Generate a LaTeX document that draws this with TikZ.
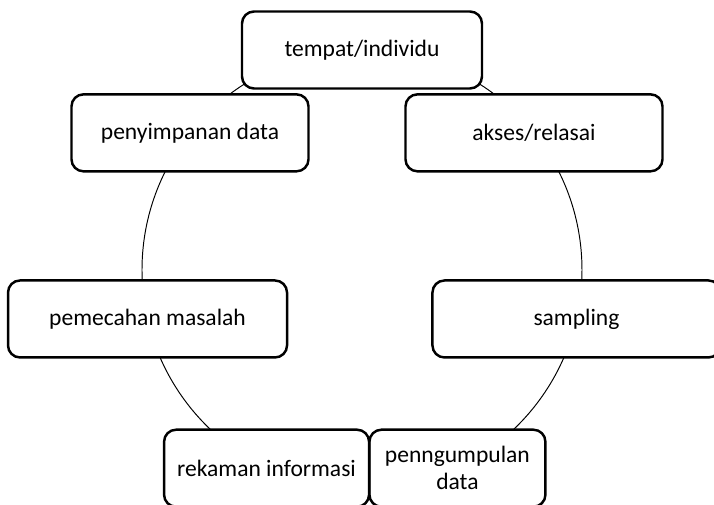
\documentclass[tikz,border=0pt]{standalone}
\usepackage{fontspec}
\setmainfont{Carlito}

\tikzset{
  cyclebox/.style={draw, line width=1.4pt, rounded corners=0.24cm, fill=white,
    minimum height=1.54cm, align=center, inner sep=2pt,
    font=\fontsize{13.4}{15.5}\selectfont}
}

\begin{document}
\begin{tikzpicture}
    \useasboundingbox (-7.24,-4.7) rectangle (7.04,5.4);
    \coordinate (O) at (0:0);
    \draw[line width=0.55pt] (O) circle (4.4);
    \node[cyclebox, minimum width=4.8cm]  (tempat)  at (90:4.4)      {tempat/individu};
    \node[cyclebox, minimum width=5.14cm] (akses)   at (38.57:4.4)   {akses/relasai};
    \node[cyclebox, minimum width=5.76cm] (sampl)   at (-12.86:4.4)  {sampling};
    \node[cyclebox, minimum width=3.52cm] (kumpul)  at (-64.29:4.4)  {penngumpulan\\data};
    \node[cyclebox, minimum width=4.1cm]  (rekam)   at (-115.71:4.4) {rekaman informasi};
    \node[cyclebox, minimum width=5.58cm] (pecah)   at (-167.14:4.4) {pemecahan masalah};
    \node[cyclebox, minimum width=4.74cm] (simpan)  at (141.43:4.4)  {penyimpanan data};
  \end{tikzpicture}
\end{document}
